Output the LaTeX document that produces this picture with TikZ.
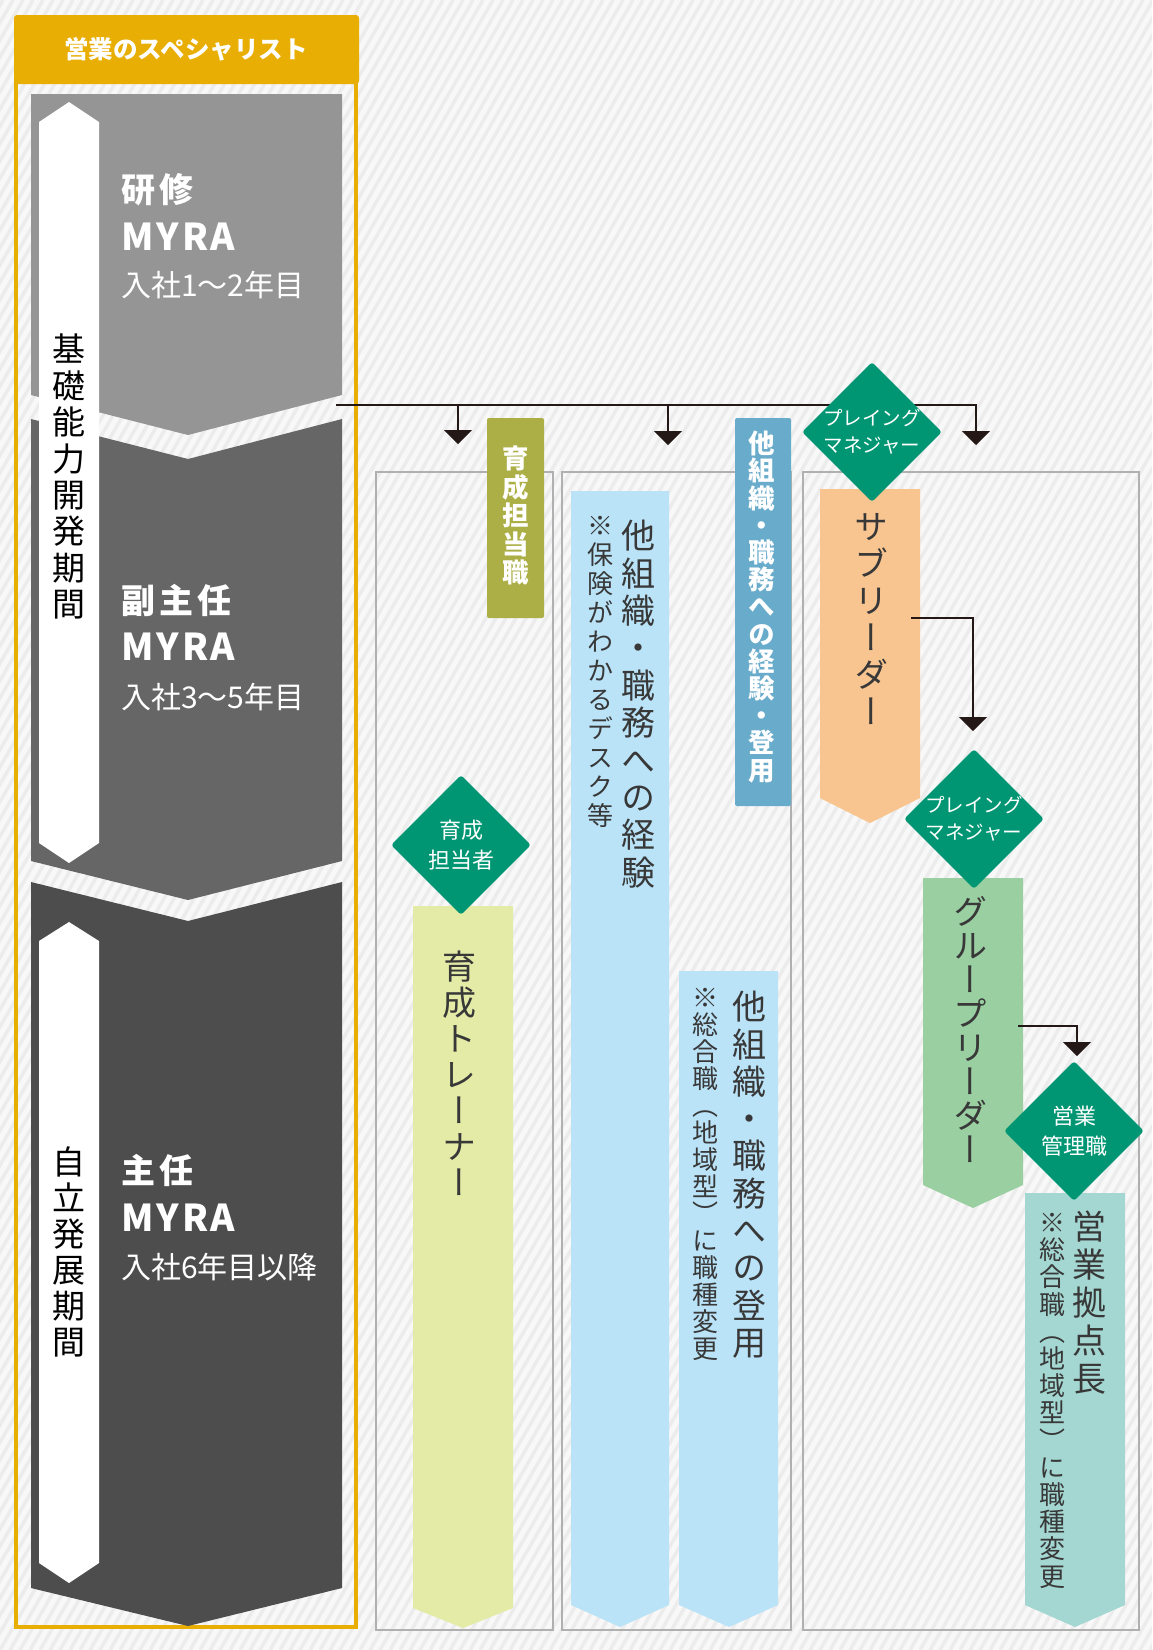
\documentclass[tikz,border=0pt]{standalone}
\usepackage{fontspec}
\setmainfont{Noto Sans CJK JP}
\newfontfamily\vjp[RawFeature=+vert]{Noto Sans CJK JP}
\usetikzlibrary{arrows.meta,shapes.geometric}
\definecolor{bgc}{HTML}{F8F8F8}
\definecolor{stripe}{HTML}{ECECEC}
\definecolor{gold}{HTML}{E8AE04}
\definecolor{gA}{HTML}{959595}
\definecolor{gB}{HTML}{666666}
\definecolor{gC}{HTML}{4D4D4D}
\definecolor{olive}{HTML}{ACAF45}
\definecolor{steel}{HTML}{69ABCB}
\definecolor{skyb}{HTML}{BAE3F8}
\definecolor{gemc}{HTML}{009673}
\definecolor{lime}{HTML}{E3EBA6}
\definecolor{peach}{HTML}{F8C590}
\definecolor{leaf}{HTML}{9ACFA2}
\definecolor{aqua}{HTML}{A4D7D2}
\definecolor{framec}{HTML}{B0B0B0}
\definecolor{inkc}{HTML}{231815}
\definecolor{txt}{HTML}{383838}
\ExplSyntaxOn
\NewDocumentCommand{\vstack}{m m}
 {
  \vbox{\baselineskip=#1pt \lineskiplimit=-\maxdimen \lineskip=0pt
   \tl_map_inline:nn {#2} { \hbox to 1em {\hss ##1 \hss} } }
 }
\ExplSyntaxOff
\begin{document}
\begin{tikzpicture}[x=1pt,y=-1pt,
  conn/.style={draw=inkc,line width=1.6pt},
  tipd/.style={-{Triangle[width=28pt,length=14pt]}},
  gembox/.style={diamond,fill=gemc,aspect=1,minimum width=140pt,minimum height=140pt,inner sep=0pt,rounded corners=3pt},
  gemtext/.style={text=white,font=\fontsize{19.5}{27}\selectfont,align=center,inner sep=0pt},
  gemtextb/.style={text=white,font=\fontsize{22}{29.5}\selectfont,align=center,inner sep=0pt},
  vmain/.style={anchor=north,inner sep=0pt,text=txt,font=\vjp\fontsize{34}{34}\selectfont},
  vsub/.style={anchor=north,inner sep=0pt,text=txt,font=\vjp\fontsize{26}{26}\selectfont},
  vband/.style={anchor=north,inner sep=0pt,text=black,font=\vjp\fontsize{33}{33}\selectfont},
  vlabel/.style={anchor=north,inner sep=0pt,text=white,font=\vjp\bfseries\fontsize{26.5}{26.5}\selectfont},
  colframe/.style={draw=framec,line width=1.5pt},
  htitle/.style={anchor=west,inner sep=0pt,text=white,font=\bfseries\fontsize{34}{34}\selectfont\addfontfeature{LetterSpace=12}},
  hmyra/.style={anchor=west,inner sep=0pt,text=white,font=\bfseries\fontsize{37}{37}\selectfont\addfontfeature{LetterSpace=8}},
  hyear/.style={anchor=west,inner sep=0pt,text=white,font=\fontsize{30}{30}\selectfont},
]
\useasboundingbox (0,0) rectangle (1152,1650);
% background
\fill[bgc] (0,0) rectangle (1152,1650);
\begin{scope}
\clip (0,0) rectangle (1152,1650);
\foreach \i in {-960,-950,...,1160} \draw[stripe,line width=3.5pt] (\i,1650) -- (\i+953,0);
\end{scope}
% left column
\draw[gold,line width=4pt] (16,80) rectangle (356,1627);
\fill[gold,rounded corners=3pt] (14,15) rectangle (359,84);
\node[text=white,font=\bfseries\fontsize{24.5}{24.5}\selectfont,inner sep=0pt] (head) at (186,49) {営業のスペシャリスト};
\fill[gA] (31,94) -- (342,94) -- (342,395) -- (188,435) -- (31,395) -- cycle;
\fill[gB] (31,419) -- (188,459) -- (342,419) -- (342,861) -- (188,900) -- (31,861) -- cycle;
\fill[gC] (31,882) -- (188,921) -- (342,882) -- (342,1588) -- (188,1626) -- (31,1588) -- cycle;
\fill[white] (39,122) -- (69,102) -- (99,122) -- (99,843) -- (69,863) -- (39,843) -- cycle;
\fill[white] (39,941) -- (69,922) -- (99,941) -- (99,1563) -- (69,1583) -- (39,1563) -- cycle;
\node[vband] (p1) at (69,334) {\vstack{36.4}{基礎能力開発期間}};
\node[vband] (p2) at (69,1146) {\vstack{36}{自立発展期間}};
\node[htitle] (t1) at (121,190) {研修};
\node[hmyra] (m1) at (121,237) {MYRA};
\node[hyear] (y1) at (121,285) {入社1〜2年目};
\node[htitle] (t2) at (121,600) {副主任};
\node[hmyra] (m2) at (121,647) {MYRA};
\node[hyear] (y2) at (121,697) {入社3〜5年目};
\node[htitle] (t3) at (121,1170) {主任};
\node[hmyra] (m3) at (121,1218) {MYRA};
\node[hyear] (y3) at (121,1267) {入社6年目以降};
% column frames
\draw[colframe] (376,472) rectangle (553,1630);
\draw[colframe] (562,472) rectangle (791,1630);
\draw[colframe] (803,472) rectangle (1139,1630);
% bars
\fill[lime] (413,906) -- (513,906) -- (513,1608) -- (463,1628) -- (413,1608) -- cycle;
\fill[skyb] (571,491) -- (669,491) -- (669,1605) -- (620,1627) -- (571,1605) -- cycle;
\fill[skyb] (679,971) -- (778,971) -- (778,1605) -- (729,1627) -- (679,1605) -- cycle;
\fill[peach] (820,489) -- (920,489) -- (920,798) -- (870,823) -- (820,798) -- cycle;
\fill[leaf] (923,878) -- (1023,878) -- (1023,1185) -- (973,1208) -- (923,1185) -- cycle;
\fill[aqua] (1025,1193) -- (1125,1193) -- (1125,1605) -- (1075,1627) -- (1025,1605) -- cycle;
% connectors
\coordinate (c0) at (336,405);
\coordinate (j1) at (458,405);
\coordinate (j2) at (668,405);
\coordinate (j3) at (976,405);
\coordinate (a1) at (458,444);
\coordinate (a2) at (668,445);
\coordinate (a3) at (976,445);
\coordinate (s1) at (911,618);
\coordinate (a4) at (973,731);
\coordinate (g1) at (1018,1026);
\coordinate (a5) at (1077,1056);
\draw[conn,tipd] (c0) -- (j3) -- (a3);
\draw[conn,tipd] (j1) -- (a1);
\draw[conn,tipd] (j2) -- (a2);
\draw[conn,tipd] (s1) -| (a4);
\draw[conn,tipd] (g1) -| (a5);
% labels
\fill[olive,rounded corners=2pt] (487,418) rectangle (544,618);
\node[vlabel] (l1) at (515.5,446) {\vstack{28.5}{育成担当職}};
\fill[steel,rounded corners=2pt] (735,418) rectangle (791,806);
\node[vlabel] (l2) at (762,431) {\vstack{27.2}{他組織・職務への経験・登用}};
% diamonds
\node[gembox] (d0) at (461,845) {};
\node[gemtextb] (d0t) at (d0) {育成\\担当者};
\node[gembox] (d1) at (872,432) {};
\node[gemtext] (d1t) at (d1) {プレイング\\マネジャー};
\node[gembox] (d2) at (974,819) {};
\node[gemtext] (d2t) at (d2) {プレイング\\マネジャー};
\node[gembox] (d3) at (1074,1131) {};
\node[gemtextb] (d3t) at (d3) {営業\\管理職};
% vertical texts in bars
\node[vmain] (b0) at (459,951) {\vstack{36}{育成トレーナー}};
\node[vmain] (b1) at (638,520) {\vstack{37.4}{他組織・職務への経験}};
\node[vsub] (b1s) at (600,516) {\vstack{29}{※保険がわかるデスク等}};
\node[vmain] (b2) at (749,991) {\vstack{37.3}{他組織・職務への登用}};
\node[vsub] (b2s) at (705,988) {\vstack{27}{※総合職（地域型）に職種変更}};
\node[vmain] (b3) at (871,513) {\vstack{37}{サブリーダー}};
\node[vmain] (b4) at (970,896) {\vstack{34}{グループリーダー}};
\node[vmain] (b5) at (1089,1211) {\vstack{38}{営業拠点長}};
\node[vsub] (b5s) at (1052,1213) {\vstack{27.2}{※総合職（地域型）に職種変更}};
\end{tikzpicture}
\end{document}
